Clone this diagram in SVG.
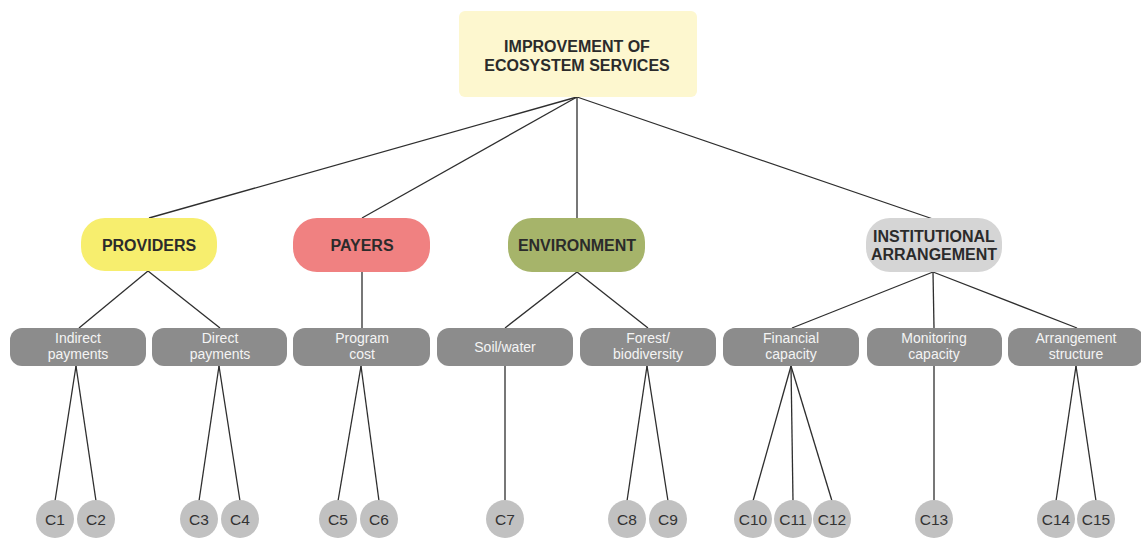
<svg xmlns="http://www.w3.org/2000/svg" width="1141" height="538" viewBox="0 0 1141 538">
  <style>
    .bg { fill: #ffffff; }
    .edge { stroke: #2e2e2e; stroke-width: 1.3; fill: none; }
    .root { fill: #fdf7cf; }
    .head { font-family: "Liberation Sans", Arial, sans-serif; font-weight: bold; font-size: 16px; fill: #2b2b2b; text-anchor: middle; }
    .sub { fill: #8c8c8c; }
    .subtxt { font-family: "Liberation Sans", Arial, sans-serif; font-size: 14px; fill: #f4f4f4; text-anchor: middle; }
    .leaf { fill: #c1c1c1; }
    .leaftxt { font-family: "Liberation Sans", Arial, sans-serif; font-size: 15.5px; fill: #333333; text-anchor: middle; }
  </style>
  <rect class="bg" x="0" y="0" width="1141" height="538"/>

  <!-- connectors -->
  <g id="connectors">
    <line class="edge" x1="577" y1="97" x2="149" y2="218"/>
    <line class="edge" x1="577" y1="97" x2="362" y2="218"/>
    <line class="edge" x1="577" y1="97" x2="577" y2="218"/>
    <line class="edge" x1="577" y1="97" x2="933" y2="219"/>

    <line class="edge" x1="148" y1="271" x2="79" y2="328"/>
    <line class="edge" x1="148" y1="271" x2="220" y2="328"/>
    <line class="edge" x1="362" y1="271" x2="362" y2="328"/>
    <line class="edge" x1="577" y1="272" x2="505" y2="328"/>
    <line class="edge" x1="577" y1="272" x2="648" y2="328"/>
    <line class="edge" x1="933" y1="272" x2="792" y2="328"/>
    <line class="edge" x1="933" y1="272" x2="934" y2="328"/>
    <line class="edge" x1="933" y1="272" x2="1077" y2="328"/>

    <line class="edge" x1="76" y1="366" x2="55" y2="501"/>
    <line class="edge" x1="76" y1="366" x2="96" y2="501"/>
    <line class="edge" x1="219" y1="366" x2="199" y2="501"/>
    <line class="edge" x1="219" y1="366" x2="240" y2="501"/>
    <line class="edge" x1="361" y1="366" x2="338" y2="501"/>
    <line class="edge" x1="361" y1="366" x2="379" y2="501"/>
    <line class="edge" x1="505" y1="366" x2="505" y2="501"/>
    <line class="edge" x1="647" y1="366" x2="627" y2="501"/>
    <line class="edge" x1="647" y1="366" x2="668" y2="501"/>
    <line class="edge" x1="791" y1="366" x2="753" y2="501"/>
    <line class="edge" x1="791" y1="366" x2="793" y2="501"/>
    <line class="edge" x1="791" y1="366" x2="832" y2="501"/>
    <line class="edge" x1="934" y1="366" x2="934" y2="501"/>
    <line class="edge" x1="1076" y1="366" x2="1056" y2="501"/>
    <line class="edge" x1="1076" y1="366" x2="1096" y2="501"/>
  </g>

  <!-- root -->
  <g id="root">
    <rect class="root" x="459" y="11" width="238" height="86" rx="6"/>
    <text class="head" x="577" y="52">IMPROVEMENT OF</text>
    <text class="head" x="577" y="71">ECOSYSTEM SERVICES</text>
  </g>

  <!-- level 2 -->
  <g id="providers">
    <rect x="81" y="218" width="136" height="53" rx="24" fill="#f7ee6e"/>
    <text class="head" x="149" y="251">PROVIDERS</text>
  </g>
  <g id="payers">
    <rect x="293" y="218" width="137" height="54" rx="24" fill="#f08181"/>
    <text class="head" x="362" y="251">PAYERS</text>
  </g>
  <g id="environment">
    <rect x="508" y="218" width="137" height="54" rx="24" fill="#a6b46a"/>
    <text class="head" x="577" y="251">ENVIRONMENT</text>
  </g>
  <g id="institutional">
    <rect x="866" y="218" width="136" height="54" rx="24" fill="#d5d5d5"/>
    <text class="head" x="934" y="242">INSTITUTIONAL</text>
    <text class="head" x="934" y="260">ARRANGEMENT</text>
  </g>

  <!-- level 3 -->
  <g id="indirect-payments">
    <rect class="sub" x="10" y="328" width="136" height="38" rx="12"/>
    <text class="subtxt" x="78" y="343">Indirect</text>
    <text class="subtxt" x="78" y="359">payments</text>
  </g>
  <g id="direct-payments">
    <rect class="sub" x="152" y="328" width="135" height="38" rx="12"/>
    <text class="subtxt" x="220" y="343">Direct</text>
    <text class="subtxt" x="220" y="359">payments</text>
  </g>
  <g id="program-cost">
    <rect class="sub" x="293" y="328" width="137" height="38" rx="12"/>
    <text class="subtxt" x="362" y="343">Program</text>
    <text class="subtxt" x="362" y="359">cost</text>
  </g>
  <g id="soil-water">
    <rect class="sub" x="437" y="328" width="136" height="38" rx="12"/>
    <text class="subtxt" x="505" y="352">Soil/water</text>
  </g>
  <g id="forest-biodiversity">
    <rect class="sub" x="580" y="328" width="136" height="38" rx="12"/>
    <text class="subtxt" x="648" y="343">Forest/</text>
    <text class="subtxt" x="648" y="359">biodiversity</text>
  </g>
  <g id="financial-capacity">
    <rect class="sub" x="723" y="328" width="136" height="38" rx="12"/>
    <text class="subtxt" x="791" y="343">Financial</text>
    <text class="subtxt" x="791" y="359">capacity</text>
  </g>
  <g id="monitoring-capacity">
    <rect class="sub" x="867" y="328" width="135" height="38" rx="12"/>
    <text class="subtxt" x="934" y="343">Monitoring</text>
    <text class="subtxt" x="934" y="359">capacity</text>
  </g>
  <g id="arrangement-structure">
    <rect class="sub" x="1008" y="328" width="136" height="38" rx="12"/>
    <text class="subtxt" x="1076" y="343">Arrangement</text>
    <text class="subtxt" x="1076" y="359">structure</text>
  </g>

  <!-- criteria -->
  <g id="c1"><circle class="leaf" cx="55" cy="519" r="19"/><text class="leaftxt" x="55" y="525">C1</text></g>
  <g id="c2"><circle class="leaf" cx="96" cy="519" r="19"/><text class="leaftxt" x="96" y="525">C2</text></g>
  <g id="c3"><circle class="leaf" cx="199" cy="519" r="19"/><text class="leaftxt" x="199" y="525">C3</text></g>
  <g id="c4"><circle class="leaf" cx="240" cy="519" r="19"/><text class="leaftxt" x="240" y="525">C4</text></g>
  <g id="c5"><circle class="leaf" cx="338" cy="519" r="19"/><text class="leaftxt" x="338" y="525">C5</text></g>
  <g id="c6"><circle class="leaf" cx="379" cy="519" r="19"/><text class="leaftxt" x="379" y="525">C6</text></g>
  <g id="c7"><circle class="leaf" cx="505" cy="519" r="19"/><text class="leaftxt" x="505" y="525">C7</text></g>
  <g id="c8"><circle class="leaf" cx="627" cy="519" r="19"/><text class="leaftxt" x="627" y="525">C8</text></g>
  <g id="c9"><circle class="leaf" cx="668" cy="519" r="19"/><text class="leaftxt" x="668" y="525">C9</text></g>
  <g id="c10"><circle class="leaf" cx="753" cy="519" r="19"/><text class="leaftxt" x="753" y="525">C10</text></g>
  <g id="c11"><circle class="leaf" cx="793" cy="519" r="19"/><text class="leaftxt" x="793" y="525">C11</text></g>
  <g id="c12"><circle class="leaf" cx="832" cy="519" r="19"/><text class="leaftxt" x="832" y="525">C12</text></g>
  <g id="c13"><circle class="leaf" cx="934" cy="519" r="19"/><text class="leaftxt" x="934" y="525">C13</text></g>
  <g id="c14"><circle class="leaf" cx="1056" cy="519" r="19"/><text class="leaftxt" x="1056" y="525">C14</text></g>
  <g id="c15"><circle class="leaf" cx="1096" cy="519" r="19"/><text class="leaftxt" x="1096" y="525">C15</text></g>
</svg>
